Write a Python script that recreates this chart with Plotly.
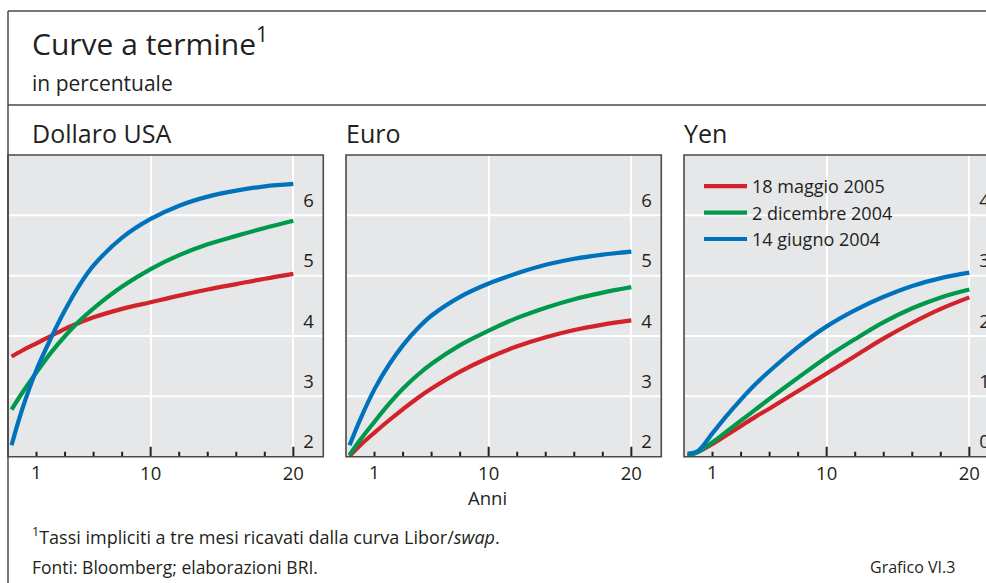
import plotly.graph_objects as go

# ---------------- data ----------------
years = [0.25, 1, 2, 3, 4, 5, 6, 8, 10, 12, 14, 16, 18, 20]
series_names = ["18 maggio 2005", "2 dicembre 2004", "14 giugno 2004"]
series_colors = ["#d2232a", "#00994c", "#0072bc"]
panel_titles = ["Dollaro USA", "Euro", "Yen"]

usd_may05 = [3.66, 3.76, 3.88, 4.00, 4.12, 4.22, 4.31, 4.45, 4.56, 4.67, 4.77, 4.86, 4.95, 5.03]
usd_dec04 = [2.78, 3.06, 3.40, 3.72, 4.00, 4.25, 4.46, 4.82, 5.11, 5.34, 5.52, 5.66, 5.79, 5.91]
usd_jun04 = [2.19, 2.79, 3.44, 3.96, 4.43, 4.84, 5.17, 5.63, 5.94, 6.16, 6.31, 6.41, 6.48, 6.52]

eur_may05 = [2.01, 2.19, 2.40, 2.60, 2.79, 2.97, 3.13, 3.41, 3.64, 3.83, 3.98, 4.10, 4.19, 4.26]
eur_dec04 = [2.03, 2.28, 2.58, 2.87, 3.13, 3.35, 3.54, 3.85, 4.09, 4.30, 4.47, 4.61, 4.72, 4.81]
eur_jun04 = [2.19, 2.62, 3.12, 3.52, 3.85, 4.12, 4.34, 4.65, 4.87, 5.04, 5.18, 5.28, 5.35, 5.40]

jpy_may05 = [0.02, 0.08, 0.21, 0.36, 0.51, 0.66, 0.80, 1.09, 1.38, 1.67, 1.96, 2.22, 2.45, 2.64]
jpy_dec04 = [0.02, 0.08, 0.24, 0.42, 0.60, 0.78, 0.96, 1.31, 1.65, 1.95, 2.23, 2.46, 2.64, 2.77]
jpy_jun04 = [0.05, 0.10, 0.39, 0.68, 0.95, 1.20, 1.42, 1.82, 2.16, 2.43, 2.65, 2.83, 2.96, 3.05]

panel_series = [
    [usd_may05, usd_dec04, usd_jun04],
    [eur_may05, eur_dec04, eur_jun04],
    [jpy_may05, jpy_dec04, jpy_jun04],
]
y_ranges = [[2, 7], [2, 7], [0, 5]]
y_ticks = [[2, 3, 4, 5, 6], [2, 3, 4, 5, 6], [0, 1, 2, 3, 4]]
x_range = [0, 22.1]
x_major_vals = [10, 20]
x_major_text = ["10", "20"]
x_minor_vals = [2, 4, 6, 8, 12, 14, 16, 18]
x_first_label_val = 2
x_first_label_text = "1"

# ---------------- layout geometry ----------------
W, H = 1000, 583
FONT = "Open Sans"
INK = "#231f20"
FRAME = "#4a4a4a"
BG = "#e6e7e8"

def px(x):
    return x / W

def py(y):
    return 1 - y / H

panel_left = [8, 346, 684]
title_left = [32, 346, 684]
panel_width = 315.3
plot_top, plot_bottom = 155, 456.7
label_inset = 21          # y tick labels sit inside the box, this far from its right edge
minor_len_px, major_len_px = 5, 10

fig = go.Figure()

for p in range(3):
    xa = "x" if p == 0 else f"x{p + 1}"
    ya = "y" if p == 0 else f"y{p + 1}"
    y0, y1 = y_ranges[p]
    unit_px = (plot_bottom - plot_top) / (y1 - y0)

    # horizontal grid lines at the y tick values (below the curves)
    gx, gy = [], []
    for v in y_ticks[p][1:]:
        gx += [x_range[0], x_range[1], None]
        gy += [v, v, None]
    fig.add_trace(go.Scatter(x=gx, y=gy, xaxis=xa, yaxis=ya, mode="lines",
                             line=dict(color="white", width=2), showlegend=False,
                             hoverinfo="skip"))

    # the three curves
    for s in range(3):
        fig.add_trace(go.Scatter(
            x=years, y=panel_series[p][s], xaxis=xa, yaxis=ya,
            mode="lines", line=dict(color=series_colors[s], width=4.2, shape="spline", smoothing=1.0),
            name=series_names[s], showlegend=(p == 0),
            hoverinfo="skip",
        ))

    # tick marks rising from the bottom edge (short every 2 years, long at 10 and 20)
    tx, ty = [], []
    for v in x_minor_vals:
        tx += [v, v, None]
        ty += [y0, y0 + minor_len_px / unit_px, None]
    for v in x_major_vals:
        tx += [v, v, None]
        ty += [y0, y0 + major_len_px / unit_px, None]
    fig.add_trace(go.Scatter(x=tx, y=ty, xaxis=xa, yaxis=ya, mode="lines",
                             line=dict(color=INK, width=2), showlegend=False,
                             hoverinfo="skip"))

layout = dict(
    width=W, height=H, autosize=False,
    margin=dict(l=0, r=0, t=0, b=0, pad=0),
    paper_bgcolor="white", plot_bgcolor=BG,
    font=dict(family=FONT, color=INK),
    showlegend=True,
    legend=dict(
        x=px(699), y=py(168), xanchor="left", yanchor="top",
        bgcolor="rgba(0,0,0,0)", borderwidth=0,
        font=dict(family=FONT, size=18, color=INK),
        traceorder="normal", tracegroupgap=0,
        itemwidth=43,
    ),
)

for p in range(3):
    n = "" if p == 0 else str(p + 1)
    right = panel_left[p] + panel_width
    d = [px(panel_left[p]), min(1.0, px(right))]
    layout[f"xaxis{n}"] = dict(
        domain=d, range=x_range, anchor=f"y{n}",
        tickmode="array", tickvals=x_major_vals, ticktext=x_major_text,
        ticks="", ticklabelstandoff=4,
        tickfont=dict(family=FONT, size=18.5, color=INK),
        showgrid=True, gridcolor="white", gridwidth=2, zeroline=False,
        showline=False, automargin=False,
        fixedrange=True,
    )
    layout[f"yaxis{n}"] = dict(
        domain=[py(plot_bottom), py(plot_top)], range=y_ranges[p],
        anchor="free", position=px(right - label_inset),
        side="right", tickmode="array", tickvals=y_ticks[p],
        ticks="", ticklabelposition="outside", ticklabelshift=-15,
        tickfont=dict(family=FONT, size=18.5, color=INK),
        showgrid=False, zeroline=False,
        showline=False, automargin=False,
        fixedrange=True,
    )

fig.update_layout(**layout)

# frame of each panel
for p in range(3):
    n = "" if p == 0 else str(p + 1)
    fig.add_shape(type="rect", xref=f"x{n} domain", yref=f"y{n} domain",
                  x0=0, x1=1, y0=0, y1=1, line=dict(color=FRAME, width=1.6),
                  fillcolor="rgba(0,0,0,0)", layer="above")

# first x tick label ("1") placed on the data scale of each panel
for p in range(3):
    xa = "x" if p == 0 else f"x{p + 1}"
    fig.add_annotation(text=x_first_label_text, xref=xa, x=x_first_label_val,
                       yref="paper", y=py(plot_bottom), yanchor="top", xanchor="center",
                       showarrow=False, font=dict(family=FONT, size=18.5, color=INK))

# frame lines of the exhibit box
fig.add_shape(type="line", xref="paper", yref="paper", x0=px(8), x1=1, y0=py(11), y1=py(11),
              line=dict(color=FRAME, width=1.5))
fig.add_shape(type="line", xref="paper", yref="paper", x0=px(8), x1=1, y0=py(105), y1=py(105),
              line=dict(color=FRAME, width=1.5))
fig.add_shape(type="line", xref="paper", yref="paper", x0=px(8), x1=px(8), y0=py(11), y1=0,
              line=dict(color=FRAME, width=1.5))

def text(t, x, y, size, xanchor="left"):
    fig.add_annotation(text=t, xref="paper", yref="paper", x=px(x), y=py(y),
                       xanchor=xanchor, yanchor="middle", showarrow=False,
                       font=dict(family=FONT, size=size, color=INK))

text("Curve a termine<sup>1</sup>", 30, 42, 30)
text("in percentuale", 30, 83, 21)
for p in range(3):
    text(panel_titles[p], title_left[p] - 2, 133, 25)
text("Anni", 487, 497, 18.5, xanchor="center")
text("<sup>1</sup>Tassi impliciti a tre mesi ricavati dalla curva Libor/<i>swap</i>.", 30, 536, 18)
text("Fonti: Bloomberg; elaborazioni BRI.", 30, 567, 17.5)
text("Grafico VI.3", 957, 567, 16, xanchor="right")

fig.write_html(
    "out.html",
    config=dict(displayModeBar=False),
    post_script="document.documentElement.style.overflow='hidden';"
                "document.body.style.margin='0';document.body.style.overflow='hidden';",
)
